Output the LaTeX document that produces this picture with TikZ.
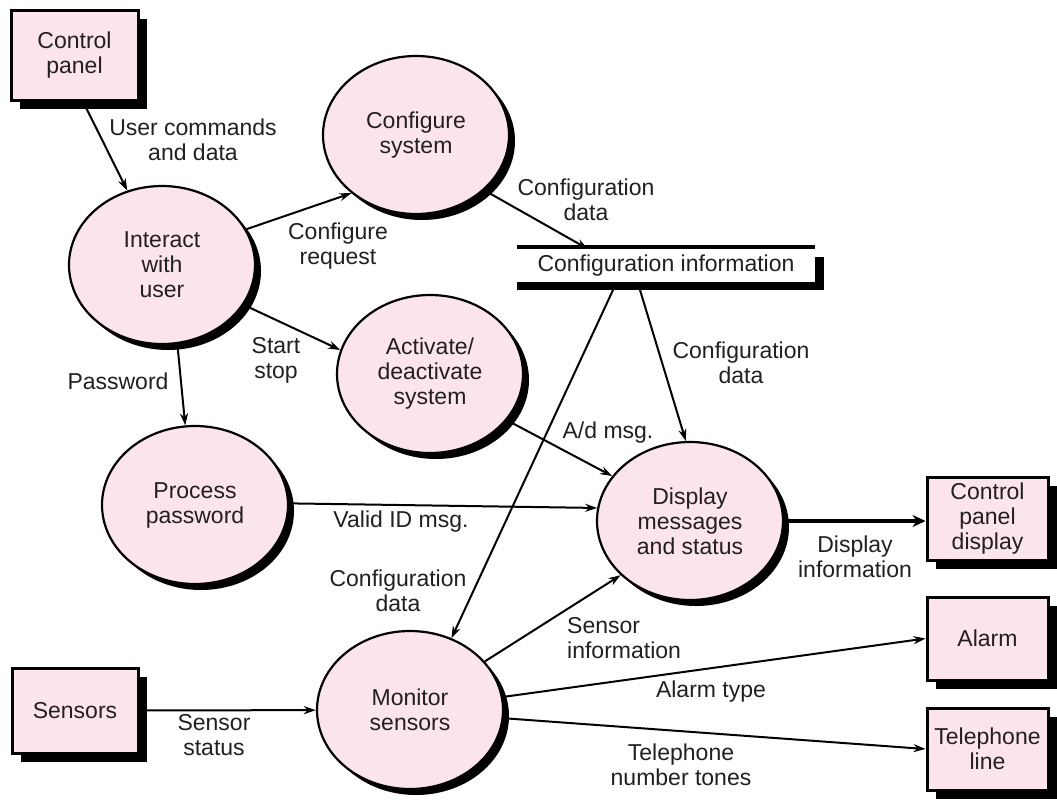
\documentclass[tikz,border=0pt]{standalone}
\usepackage{fontspec}
\setmainfont{Liberation Sans}
\usetikzlibrary{shapes.geometric,shadows,arrows.meta,calc}
\definecolor{pinkfill}{RGB}{251,228,236}
\definecolor{inkc}{RGB}{35,31,32}
\begin{document}
\begin{tikzpicture}[x=1pt,y=-1pt,
  every node/.style={font=\fontsize{23pt}{25pt}\selectfont, text=inkc},
  proc/.style={ellipse, draw=black, line width=2.2pt, fill=pinkfill,
    minimum width=186pt, minimum height=158pt, inner sep=0pt, align=center,
    general shadow={fill=black, shadow xshift=6pt, shadow yshift=-6pt}},
  ext/.style={rectangle, draw=black, line width=3pt, fill=pinkfill,
    inner sep=0pt, align=center,
    general shadow={fill=black, shadow xshift=9pt, shadow yshift=-9pt}},
  flow/.style={draw=black, line width=2pt, -{Stealth[length=12pt,width=8pt]}},
  lbl/.style={align=center, inner sep=0pt}]
\useasboundingbox (0,0) rectangle (1057,804);

% external entities
\node[ext, minimum width=127pt, minimum height=90pt] (cp) at (74.5,55) {Control\\panel};
\node[ext, minimum width=126pt, minimum height=85pt] (sens) at (75,710.5) {Sensors};
\node[ext, minimum width=121pt, minimum height=83pt] (cpd) at (987.5,518.5) {Control\\panel\\display};
\node[ext, minimum width=121pt, minimum height=83pt] (alarm) at (987.5,638.5) {Alarm};
\node[ext, minimum width=121pt, minimum height=82pt] (tele) at (987.5,749) {Telephone\\line};

% processes
\node[proc] (inter) at (162,265) {Interact\\with\\user};
\node[proc] (conf) at (416,135) {Configure\\system};
\node[proc] (act) at (430,374) {Activate/\\deactivate\\system};
\node[proc] (pass) at (195,505) {Process\\password};
\node[proc] (disp) at (690,521) {Display\\messages\\and status};
\node[proc] (mon) at (410,710) {Monitor\\sensors};

% data store
\node[lbl, minimum width=298pt, minimum height=38pt] (store) at (666,266) {Configuration information};
\draw[line width=3.5pt] (store.north west) -- (store.north east);
\fill (517,282) rectangle (824,290);
\fill (815,257) rectangle (824,290);
\coordinate (sin) at (588,249);
\coordinate (sout1) at (640,290);
\coordinate (sout2) at (613,290);

% flows
\draw[flow] ([xshift=8.5pt]cp.south) -- (inter.115);
\draw[flow] (inter.23) -- (conf.222);
\draw[flow] (conf.-39) -- (sin);
\draw[flow] (inter.-26) -- (act.165);
\draw[flow] (inter.-79) -- (pass.97);
\draw[flow] (sout1) -- (disp.93);
\draw[flow] (sout2) -- (mon.60);
\draw[flow] (act.-31) -- (disp.150);
\draw[flow] (pass.1) -- (disp.172);
\draw[draw=black, line width=4.5pt, -{Stealth[length=13pt,width=12pt]}] (disp.east) -- (disp.east -| cpd.west);
\draw[flow] (mon.33) -- (disp.218);
\draw[flow] (sens) -- (mon);
\draw[flow] (mon.8) -- (alarm.west);
\draw[flow] (mon.-5) -- (tele.west);

% labels
\node[lbl] (l1) at (193,140) {User commands\\and data};
\node[lbl] (l2) at (586,200) {Configuration\\data};
\node[lbl] (l3) at (338,246) {Configure\\request};
\node[lbl] (l4) at (276,360) {Start\\stop};
\node[lbl] (l5) at (118,381) {Password};
\node[lbl] (l6) at (741,363) {Configuration\\data};
\node[lbl] (l7) at (608,433) {A/d msg.};
\node[lbl] (l8) at (401,522) {Valid ID msg.};
\node[lbl] (l9) at (855,557) {Display\\information};
\node[lbl] (l10) at (398,591) {Configuration\\data};
\node[lbl, align=left, anchor=west] (l11) at (567,638) {Sensor\\information};
\node[lbl] (l12) at (711,692) {Alarm type};
\node[lbl] (l13) at (681,765) {Telephone\\number tones};
\node[lbl] (l14) at (214,735) {Sensor\\status};
\end{tikzpicture}
\end{document}
